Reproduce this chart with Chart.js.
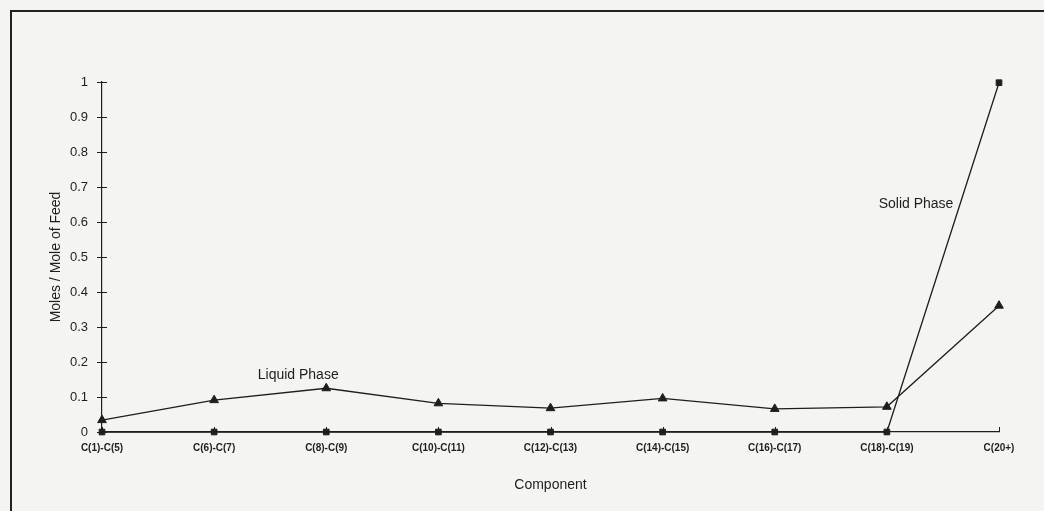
<!DOCTYPE html>
<html>
<head>
<meta charset="utf-8">
<script src="https://cdn.jsdelivr.net/npm/chart.js@4.4.1/dist/chart.umd.min.js"></script>
<style>
    html, body { margin: 0; padding: 0; background: #f4f4f2; overflow: hidden; }
    #frame {
        position: absolute; left: 10px; top: 10px; width: 1100px; height: 600px;
        border-left: 2px solid #222; border-top: 2px solid #222;
    }
    #wrap { position: absolute; left: 0; top: 0; width: 1044px; height: 511px; }
</style>
</head>
<body>
<div id="frame"></div>
<div id="wrap"><canvas id="chart1"></canvas></div>
<script>
const categories = ['C(1)-C(5)', 'C(6)-C(7)', 'C(8)-C(9)', 'C(10)-C(11)', 'C(12)-C(13)',
                    'C(14)-C(15)', 'C(16)-C(17)', 'C(18)-C(19)', 'C(20+)'];
const liquidPhase = [0.034, 0.091, 0.125, 0.082, 0.068, 0.096, 0.066, 0.072, 0.361];
const solidPhase = [0, 0, 0, 0, 0, 0, 0, 0, 0.998];
const yTickLabels = ['0', '0.1', '0.2', '0.3', '0.4', '0.5', '0.6', '0.7', '0.8', '0.9', '1'];

const ink = '#1e1e1e';
const fontName = '"Liberation Sans", Arial, sans-serif';

document.addEventListener('DOMContentLoaded', () => {
    chartCreation();
});

// inward tick marks and the two phase labels
const extras = {
    id: 'extras',
    afterDraw(chart) {
        const ctx = chart.ctx;
        const x = chart.scales.x;
        const y = chart.scales.y;
        ctx.save();
        ctx.strokeStyle = ink;
        ctx.lineWidth = 1;
        ctx.beginPath();
        y.ticks.forEach((t, i) => {
            const py = Math.round(y.getPixelForTick(i)) + 0.5;
            ctx.moveTo(x.left, py);
            ctx.lineTo(x.left + 5, py);
        });
        x.ticks.forEach((t, i) => {
            const px = Math.round(x.getPixelForTick(i)) + 0.5;
            ctx.moveTo(px, y.bottom);
            ctx.lineTo(px, y.bottom - 5);
        });
        ctx.stroke();

        ctx.fillStyle = ink;
        ctx.font = '14px ' + fontName;
        ctx.textAlign = 'center';
        ctx.textBaseline = 'middle';
        ctx.fillText('Liquid Phase', x.getPixelForValue(1.75), y.getPixelForValue(0.163));
        ctx.fillText('Solid Phase', x.getPixelForValue(7.26), y.getPixelForValue(0.651));
        ctx.restore();
    }
};

function chartCreation() {
    const ctx = document.getElementById('chart1');

    const chart = new Chart(ctx, {
        type: 'line',
        data: {
            labels: categories,
            datasets: [{
                label: 'Liquid Phase',
                data: liquidPhase,
                borderColor: ink,
                backgroundColor: ink,
                borderWidth: 1.3,
                pointStyle: 'triangle',
                pointRadius: 5,
                pointBorderWidth: 1,
                tension: 0,
                clip: false
            }, {
                label: 'Solid Phase',
                data: solidPhase,
                borderColor: ink,
                backgroundColor: ink,
                borderWidth: 1.3,
                pointStyle: 'rect',
                pointRadius: 4,
                pointBorderWidth: 1,
                tension: 0,
                clip: false
            }]
        },
        options: {
            responsive: true,
            maintainAspectRatio: false,
            animation: false,
            layout: {
                padding: { left: 40, right: 45, top: 82, bottom: 10 }
            },
            scales: {
                x: {
                    offset: false,
                    grid: { display: false, drawTicks: false },
                    border: { display: true, color: ink, width: 1.2 },
                    ticks: {
                        color: ink,
                        padding: 10,
                        maxRotation: 0,
                        autoSkip: false,
                        font: { family: fontName, size: 10, weight: 'bold' }
                    },
                    title: {
                        display: true,
                        text: 'Component',
                        color: ink,
                        padding: { top: 0, bottom: 7 },
                        font: { family: fontName, size: 14 }
                    },
                    afterFit: (scale) => { scale.height = 69; }
                },
                y: {
                    min: 0,
                    max: 1,
                    grid: { drawOnChartArea: false, drawTicks: true, tickLength: 5, color: ink },
                    border: { display: true, color: ink, width: 1.2 },
                    ticks: {
                        stepSize: 0.1,
                        color: ink,
                        padding: 9,
                        font: { family: fontName, size: 13 },
                        callback: (v, i) => yTickLabels[i]
                    },
                    title: {
                        display: true,
                        text: 'Moles / Mole of Feed',
                        color: ink,
                        padding: { top: 8, bottom: 0 },
                        font: { family: fontName, size: 14 }
                    },
                    afterFit: (scale) => { scale.width = 62; }
                }
            },
            plugins: {
                legend: { display: false },
                tooltip: { enabled: false }
            }
        },
        plugins: [extras]
    });
}
</script>
</body>
</html>
